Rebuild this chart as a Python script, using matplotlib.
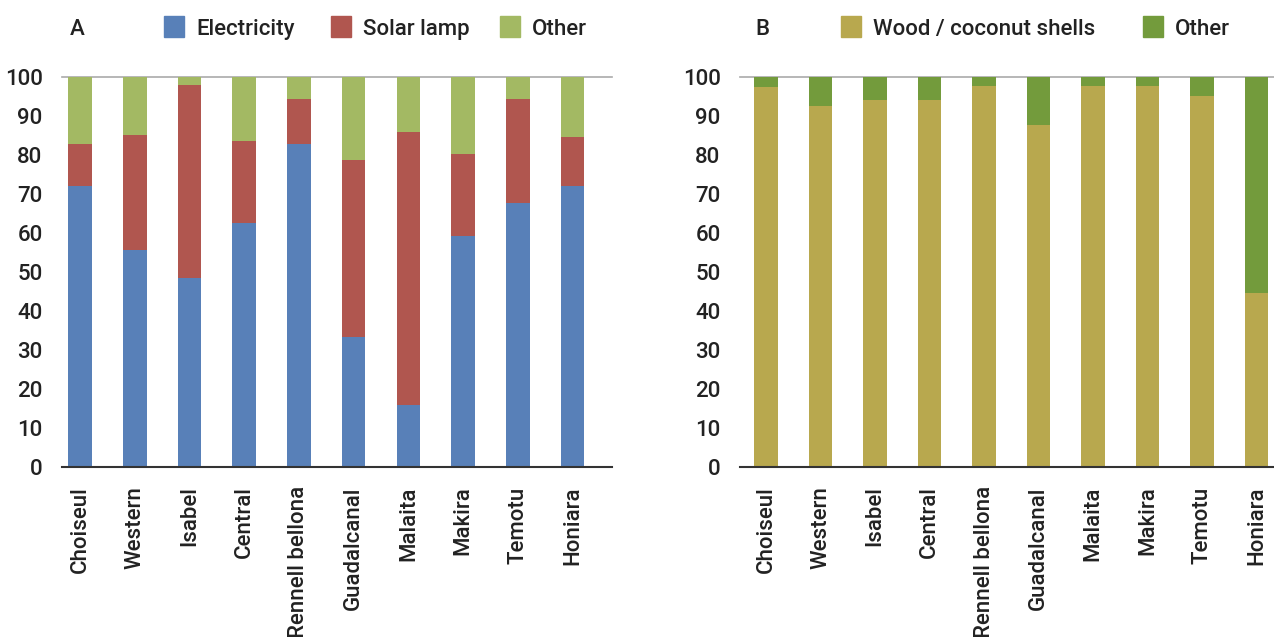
import numpy as np
import matplotlib.pyplot as plt
from matplotlib.patches import Rectangle

plt.rcParams['font.family'] = ['Roboto', 'DejaVu Sans']

provinces = ['Choiseul', 'Western', 'Isabel', 'Central', 'Rennell bellona',
             'Guadalcanal', 'Malaita', 'Makira', 'Temotu', 'Honiara']

# A: main lighting source (% of households)
electricity = [72, 55.6, 48.5, 62.6, 82.8, 33.3, 15.9, 59.3, 67.7, 72]
solar_lamp = [10.8, 29.5, 49.4, 21.0, 11.6, 45.4, 70.0, 21.0, 26.7, 12.6]
light_other = [100 - e - s for e, s in zip(electricity, solar_lamp)]

# B: main cooking fuel (% of households)
wood = [97.4, 92.5, 94.1, 94.1, 97.7, 87.7, 97.7, 97.7, 95.1, 44.5]
cook_other = [100 - w for w in wood]

c_elec = '#5880b8'
c_solar = '#b0564f'
c_light_other = '#a3b963'
c_wood = '#b8a84e'
c_cook_other = '#739b3c'
txt = '#222222'

W, H = 1274, 637
fig = plt.figure(figsize=(W / 100, H / 100), dpi=100)
axA = fig.add_axes([62 / W, 0.267, 550 / W, 0.612])
axB = fig.add_axes([740 / W, 0.267, 534 / W, 0.612])

x = np.arange(len(provinces))
w = 0.43

axA.bar(x, electricity, w, color=c_elec)
axA.bar(x, solar_lamp, w, bottom=electricity, color=c_solar)
axA.bar(x, light_other, w, bottom=np.add(electricity, solar_lamp), color=c_light_other)
axA.set_xlim(-0.33, 9.72)

axB.bar(x, wood, w, color=c_wood)
axB.bar(x, cook_other, w, bottom=wood, color=c_cook_other)
axB.set_xlim(-0.48, 9.32)

for ax in (axA, axB):
    ax.set_ylim(0, 100)
    ax.set_yticks(range(0, 101, 10))
    ax.set_xticks(x)
    ax.set_xticklabels(provinces, rotation=90, fontsize=16, color=txt,
                       fontweight='medium')
    ax.tick_params(axis='y', labelsize=16, colors=txt, length=0, pad=14)
    for lab in ax.get_yticklabels():
        lab.set_fontweight('medium')
    ax.tick_params(axis='x', length=0, pad=14)
    for side in ('left', 'right', 'top'):
        ax.spines[side].set_visible(False)
    ax.spines['bottom'].set_color('#333333')
    ax.spines['bottom'].set_linewidth(1.5)
    ax.axhline(100, color='#aaaaaa', lw=1.2, zorder=0, clip_on=False)


def legend_item(px, label, color):
    # square swatch followed by its label, placed in pixel units
    fig.patches.append(Rectangle((px / W, 1 - 37 / H), 20 / W, 21 / H,
                                 transform=fig.transFigure, color=color))
    fig.text((px + 32) / W, 1 - 27 / H, label, fontsize=16, va='center_baseline',
             color=txt, fontweight='medium')


fig.text(70 / W, 1 - 27 / H, 'A', fontsize=16, va='center_baseline', color=txt,
         fontweight='medium')
legend_item(164, 'Electricity', c_elec)
legend_item(331, 'Solar lamp', c_solar)
legend_item(500, 'Other', c_light_other)

fig.text(755 / W, 1 - 27 / H, 'B', fontsize=16, va='center_baseline', color=txt,
         fontweight='medium')
legend_item(841, 'Wood / coconut shells', c_wood)
legend_item(1143, 'Other', c_cook_other)

fig.savefig('out.png', dpi=100)
